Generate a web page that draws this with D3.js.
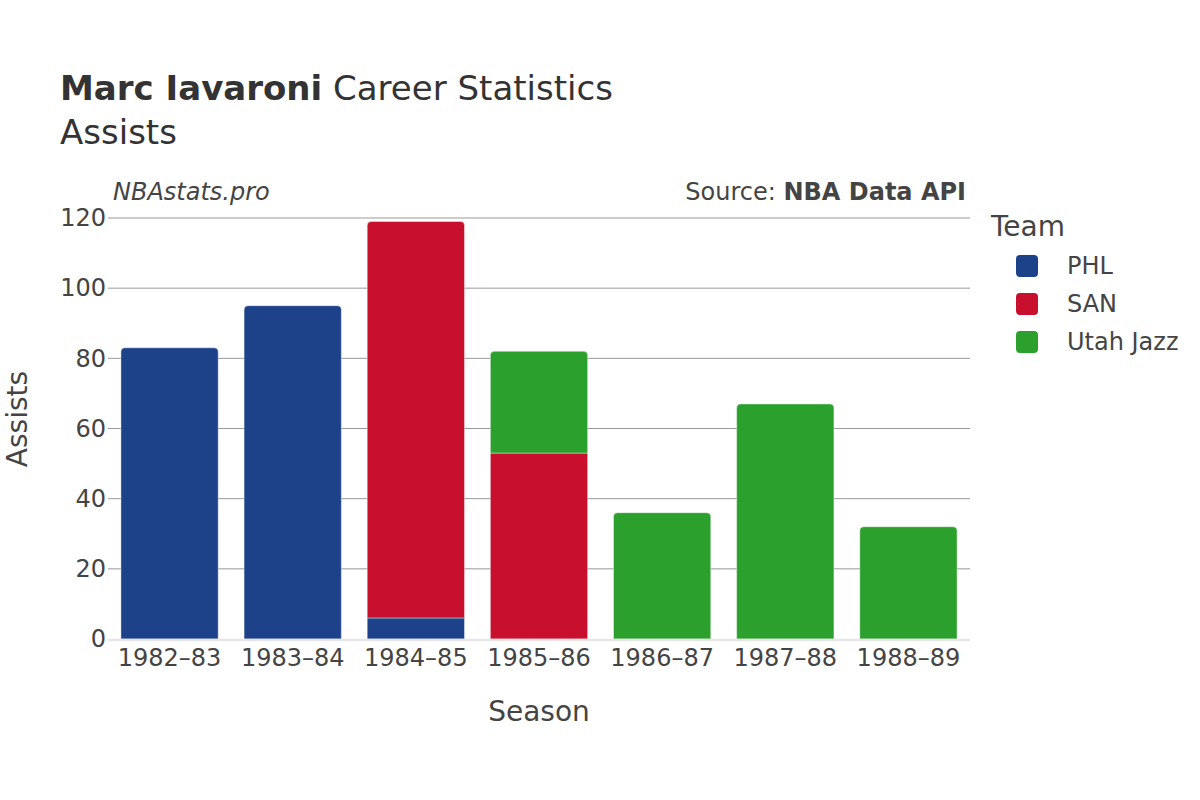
<!DOCTYPE html>
<html><head><meta charset="utf-8">
<script src="https://cdn.jsdelivr.net/npm/d3@7"></script>
<style>body{margin:0;background:#fff;}svg{font-family:"DejaVu Sans",sans-serif;}</style>
</head><body>
<svg id="c" width="1200" height="800"></svg>
<script>
const seasons = ["1982–83","1983–84","1984–85","1985–86","1986–87","1987–88","1988–89"];
const teams = ["PHL","SAN","Utah Jazz"];
const teamColors = ["#1d428a","#c8102e","#2ca02c"];
const phl = [83,95,6,0,0,0,0];
const san = [0,0,113,53,0,0,0];
const utah = [0,0,0,29,36,67,32];
const yTicks = [0,20,40,60,80,100,120];

const svg = d3.select("#c");
const L=108,R=970,T=218,B=639;
const x = d3.scaleBand().domain(seasons).range([L,R]).paddingInner(0.21).paddingOuter(0.105);
const y = d3.scaleLinear().domain([0,120]).range([B,T]);
const txt="#444";

// grid
svg.append("g").selectAll("line").data(yTicks.filter(d=>d>0)).join("line")
 .attr("x1",L).attr("x2",R).attr("y1",d=>y(d)).attr("y2",d=>y(d))
 .attr("stroke","#999").attr("stroke-width",1);
// y axis labels
const ya = svg.append("g").attr("transform",`translate(${L},0)`).call(d3.axisLeft(y).tickValues(yTicks).tickSize(0).tickPadding(2));
ya.select(".domain").remove();
ya.selectAll("text").attr("font-size",24).attr("fill",txt).attr("font-family","DejaVu Sans");

const series = [phl,san,utah];
const data = seasons.map((s,i)=>{const o={season:s};teams.forEach((t,k)=>o[t]=series[k][i]);return o;});
const stack = d3.stack().keys(teams)(data);
const r=4;
function barPath(x0,w,y0,y1,round){
  const h=y0-y1; if(h<=0) return "";
  if(!round) return `M${x0},${y0}V${y1}H${x0+w}V${y0}Z`;
  const rr=Math.min(r,h);
  return `M${x0},${y0}V${y1+rr}Q${x0},${y1} ${x0+rr},${y1}H${x0+w-rr}Q${x0+w},${y1} ${x0+w},${y1+rr}V${y0}Z`;
}
stack.forEach((layer,k)=>{
  svg.append("g").selectAll("path").data(layer).join("path")
   .attr("d",(d,i)=>{
     const isTop = teams.slice(k+1).every((t,j)=>series[k+1+j][i]===0);
     return barPath(x(seasons[i]),x.bandwidth(),y(d[0]),y(d[1]),isTop);
   })
   .attr("fill",teamColors[k]).attr("stroke","#fff").attr("stroke-width",0.6).attr("stroke-opacity",0.7);
});
// zero line
svg.append("line").attr("x1",L).attr("x2",R).attr("y1",B+1).attr("y2",B+1).attr("stroke","#e6e6e6").attr("stroke-width",2.5);

// x axis
const xa = svg.append("g").attr("transform",`translate(0,${B})`).call(d3.axisBottom(x).tickSize(0).tickPadding(10));
xa.select(".domain").remove();
xa.selectAll("text").attr("font-size",24).attr("fill",txt).attr("font-family","DejaVu Sans");

// titles
const t = svg.append("text").attr("x",60).attr("y",100).attr("font-size",34).attr("fill","#333");
t.append("tspan").attr("font-weight","bold").text("Marc Iavaroni");
t.append("tspan").text(" Career Statistics");
svg.append("text").attr("x",60).attr("y",144).attr("font-size",34).attr("fill","#333").text("Assists");
svg.append("text").attr("x",113).attr("y",200).attr("font-size",24).attr("font-style","italic").attr("fill",txt).text("NBAstats.pro");
const s = svg.append("text").attr("x",966).attr("y",200).attr("font-size",24).attr("text-anchor","end").attr("fill",txt);
s.append("tspan").text("Source: ");
s.append("tspan").attr("font-weight","bold").text("NBA Data API");
svg.append("text").attr("x",539).attr("y",721).attr("font-size",28).attr("text-anchor","middle").attr("fill",txt).text("Season");
svg.append("text").attr("transform","translate(27,419) rotate(-90)").attr("font-size",28).attr("text-anchor","middle").attr("fill",txt).text("Assists");

// legend
svg.append("text").attr("x",991).attr("y",236).attr("font-size",28).attr("fill",txt).text("Team");
const lg = svg.append("g").selectAll("g").data(teams).join("g").attr("transform",(d,i)=>`translate(0,${266+i*38})`);
lg.append("rect").attr("x",1016).attr("y",-11).attr("width",22).attr("height",22).attr("rx",4).attr("fill",(d,i)=>teamColors[i]);
lg.append("text").attr("x",1067).attr("y",8).attr("font-size",24).attr("fill",txt).text(d=>d);
</script>
</body></html>
